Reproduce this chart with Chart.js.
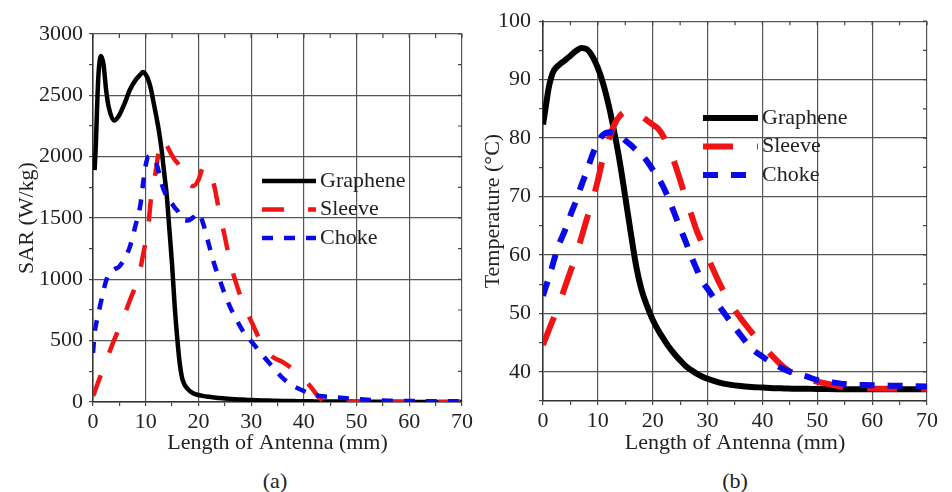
<!DOCTYPE html>
<html>
<head>
<meta charset="utf-8">
<script src="https://cdn.jsdelivr.net/npm/chart.js@4.4.0/dist/chart.umd.min.js"></script>
<style>
  body { margin: 0; background: #fff; }
  .panel { position: absolute; top: 0; width: 476px; height: 460px; }
  .caption { position: absolute; font: 22px "Liberation Serif", serif; color: #222; transform: translate(-50%, -50%); }
</style>
</head>
<body>
<div class="panel" style="left:0"><canvas id="sarChart"></canvas></div>
<div class="panel" style="left:476px"><canvas id="tempChart"></canvas></div>
<div class="caption" style="left:275px; top:481px">(a)</div>
<div class="caption" style="left:735px; top:481px">(b)</div>
<script>
/* data */
const sarLength = [0, 0.3, 0.5, 1, 1.5, 2, 2.5, 3, 4, 5, 6, 7, 8, 9, 9.5, 10, 10.5, 11, 11.5, 12, 12.5, 13, 13.5, 14, 14.5, 15, 15.5, 16, 16.5, 17, 18, 19, 20, 21, 22, 23, 24, 25, 26, 27, 28, 29, 30, 32, 34, 36, 38, 40, 41, 42, 43, 44, 46, 50, 55, 60, 65, 70];
const sarGraphene = [null, 1890, 2060, 2640, 2820, 2750, 2540, 2400, 2295, 2340, 2435, 2545, 2620, 2670, 2690, 2670, 2625, 2550, 2440, 2330, 2210, 2060, 1870, 1680, 1400, 1120, 780, 510, 300, 180, 105, 72, 57, 48, 42, 37, 32, 28, 25, 22, 20, 18, 16, 13, 11, 9, 8, 6, 6, 5, 5, 5, 4, 3, 2, 1, 1, 0];
const sarSleeve = [50, 80, 105, 165, 222, 278, 335, 393, 505, 605, 715, 830, 940, 1090, 1200, 1310, 1440, 1660, 1780, 1910, 2050, 2140, 2130, 2090, 2050, 2010, 1975, 1950, 1915, 1870, 1790, 1760, 1810, 1920, 1880, 1760, 1540, 1350, 1140, 990, 860, 750, 660, 480, 370, 325, 265, 190, 140, 85, 30, 10, 5, 3, 2, 2, 1, 1];
const sarChoke = [400, 560, 615, 715, 815, 910, 990, 1040, 1080, 1105, 1170, 1266, 1429, 1610, 1783, 1930, 2000, 2005, 1990, 1950, 1870, 1783, 1720, 1675, 1640, 1615, 1585, 1560, 1525, 1490, 1480, 1505, 1540, 1440, 1280, 1125, 1000, 880, 775, 690, 610, 540, 495, 390, 290, 195, 130, 90, 72, 58, 50, 45, 38, 25, 12, 8, 6, 5];

const tempLength = [0, 0.5, 1, 1.5, 2, 3, 4, 5, 6, 7, 8, 9, 10, 11, 12, 13, 14, 15, 16, 17, 18, 19, 20, 21, 22, 23, 24, 25, 26, 27, 28, 29, 30, 32, 34, 36, 38, 40, 42, 44, 46, 48, 50, 52, 55, 60, 65, 70];
const tempGraphene = [82.3, 85.3, 88.4, 90.4, 91.6, 92.6, 93.3, 94.1, 94.9, 95.4, 95.2, 94.0, 92.0, 89.2, 85.5, 81.0, 75.9, 69.9, 63.8, 58.0, 53.9, 51.2, 48.9, 47.1, 45.6, 44.2, 43.0, 41.95, 41.0, 40.3, 39.7, 39.2, 38.8, 38.2, 37.8, 37.55, 37.4, 37.3, 37.2, 37.15, 37.1, 37.1, 37.05, 37.05, 37.0, 37.0, 37.0, 37.0];
const tempSleeve = [44.6, 45.8, 47.0, 48.2, 49.3, 51.8, 54.5, 57.2, 59.7, 63.0, 66.2, 69.2, 72.8, 76.8, 79.8, 82.3, 83.8, 84.5, 84.7, 84.3, 83.7, 83.0, 82.3, 81.6, 80.2, 78.0, 75.7, 72.8, 69.8, 67.0, 64.2, 62.0, 59.7, 55.5, 52.0, 49.2, 46.8, 44.6, 42.5, 40.7, 39.5, 38.8, 38.3, 37.9, 37.4, 37.15, 37.1, 37.1];
const tempChoke = [53.0, 54.5, 55.9, 57.4, 59.1, 62.0, 64.2, 66.8, 69.2, 71.9, 74.4, 77.1, 79.3, 80.6, 81.0, 80.8, 80.4, 79.6, 78.8, 77.9, 77.1, 76.0, 74.6, 73.2, 71.5, 69.4, 67.0, 64.6, 62.3, 59.8, 57.6, 55.5, 54.2, 51.4, 48.8, 46.3, 44.0, 42.6, 41.4, 40.4, 39.7, 39.2, 38.6, 38.3, 37.9, 37.7, 37.6, 37.5];

const seriesNames = ['Graphene', 'Sleeve', 'Choke'];
const seriesColors = ['#000000', '#f01414', '#0a0ae8'];

const font = { family: 'Liberation Serif', size: 22 };
const textColor = '#222';

function points(xs, ys) {
  return xs.map((x, i) => ({ x: x, y: ys[i] }));
}

// inward ticks on the top and right edges of the frame
const mirrorTicks = {
  id: 'mirrorTicks',
  afterDraw(chart) {
    const { ctx, chartArea: a, scales } = chart;
    ctx.save();
    ctx.strokeStyle = '#444';
    ctx.lineWidth = 1.2;
    ctx.beginPath();
    scales.x.ticks.forEach(t => {
      const px = scales.x.getPixelForValue(t.value);
      ctx.moveTo(px, a.top);
      ctx.lineTo(px, a.top + 4);
    });
    scales.y.ticks.forEach(t => {
      const py = scales.y.getPixelForValue(t.value);
      ctx.moveTo(a.right, py);
      ctx.lineTo(a.right - 4, py);
    });
    ctx.stroke();
    ctx.restore();
  }
};

// legend drawn inside the plot, line sample then label
const insideLegend = {
  id: 'insideLegend',
  afterDatasetsDraw(chart, args, opts) {
    const ctx = chart.ctx;
    chart.data.datasets.forEach((ds, i) => {
      const yy = opts.y + i * opts.rowH;
      ctx.save();
      ctx.strokeStyle = ds.borderColor;
      ctx.lineWidth = ds.borderWidth;
      ctx.setLineDash(ds.borderDash || []);
      ctx.beginPath();
      ctx.moveTo(opts.x, yy);
      ctx.lineTo(opts.x + opts.w, yy);
      ctx.stroke();
      ctx.setLineDash([]);
      ctx.fillStyle = textColor;
      ctx.font = '22px "Liberation Serif"';
      ctx.textBaseline = 'middle';
      ctx.fillText(ds.label, opts.x + opts.w + 4, yy);
      ctx.restore();
    });
  }
};

function makeChart(id, xs, ys, cfg) {
  const datasets = ys.map((vals, i) => ({
    label: seriesNames[i],
    data: points(xs, vals),
    borderColor: seriesColors[i],
    borderWidth: cfg.lineWidth,
    borderDash: cfg.dashes[i],
    pointRadius: 0,
    cubicInterpolationMode: 'monotone',
    order: 3 - i
  }));

  return new Chart(document.getElementById(id), {
    type: 'line',
    data: { datasets: datasets },
    plugins: [mirrorTicks, insideLegend],
    options: {
      responsive: true,
      maintainAspectRatio: false,
      devicePixelRatio: 1,
      animation: false,
      layout: { padding: cfg.padding },
      plugins: {
        legend: { display: false },
        tooltip: { enabled: false },
        insideLegend: cfg.legend
      },
      scales: {
        x: {
          type: 'linear',
          min: 0,
          max: 70,
          afterFit: s => { s.height = cfg.xHeight; },
          ticks: {
            stepSize: 5, autoSkip: false, maxRotation: 0, padding: 3,
            color: textColor, font: font,
            callback: v => v % 10 === 0 ? v : ''
          },
          grid: {
            color: c => c.tick && c.tick.value % 10 === 0 ? '#555' : 'rgba(0,0,0,0)',
            tickColor: '#444', tickLength: 4, lineWidth: 1.2
          },
          border: { color: '#333', width: 1.5 },
          title: { display: true, text: 'Length of Antenna (mm)', color: textColor, font: font, padding: { top: 0, bottom: 4 } }
        },
        y: {
          min: cfg.yMin,
          max: cfg.yMax,
          afterFit: s => { s.width = cfg.yWidth; },
          ticks: {
            stepSize: cfg.yMinor, autoSkip: false, padding: cfg.yPad,
            color: textColor, font: font,
            callback: v => v % cfg.yMajor === 0 ? v : ''
          },
          grid: {
            color: c => c.tick && c.tick.value % cfg.yMajor === 0 ? '#555' : 'rgba(0,0,0,0)',
            tickColor: '#444', tickLength: 4, lineWidth: 1.2
          },
          border: { color: '#333', width: 1.5 },
          title: { display: true, text: cfg.yTitle, color: textColor, font: font, padding: { top: cfg.yTitlePad, bottom: 0 } }
        }
      }
    }
  });
}

makeChart('sarChart', sarLength, [sarGraphene, sarSleeve, sarChoke], {
  lineWidth: 4.5,
  dashes: [[], [22, 24], [11, 11]],
  padding: { left: 0, top: 34, right: 14, bottom: 0 },
  xHeight: 58,
  yMin: 0, yMax: 3000, yMinor: 250, yMajor: 500,
  yWidth: 93, yPad: 6, yTitlePad: 14,
  yTitle: 'SAR (W/kg)',
  legend: { x: 262, y: 181, w: 54, rowH: 28.5 }
});

makeChart('tempChart', tempLength, [tempGraphene, tempSleeve, tempChoke], {
  lineWidth: 6,
  dashes: [[], [30, 24], [15, 13]],
  padding: { left: 0, top: 17, right: 25, bottom: 0 },
  xHeight: 59,
  yMin: 35, yMax: 100, yMinor: 5, yMajor: 10,
  yWidth: 67, yPad: 8, yTitlePad: 4,
  yTitle: 'Temperature (°C)',
  legend: { x: 227, y: 118, w: 55, rowH: 28.5 }
});
</script>
</body>
</html>
